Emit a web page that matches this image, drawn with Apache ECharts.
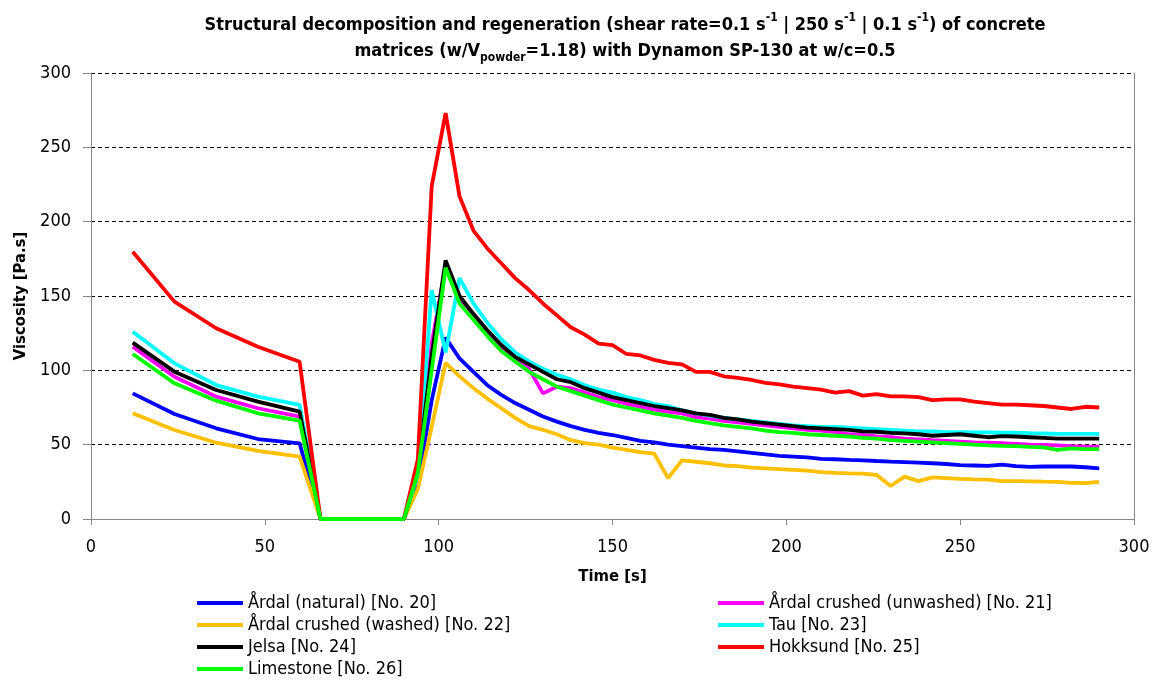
<!DOCTYPE html>
<html>
<head>
<meta charset="utf-8">
<script src="https://cdn.jsdelivr.net/npm/echarts@6/dist/echarts.min.js"></script>
<style>html,body{margin:0;padding:0;background:#fff}#c{width:1158px;height:684px}</style>
</head>
<body>
<div id="c"></div>
<script>
// time axis (s)
var timesA = [12, 24, 36, 48, 60, 66, 90];
var timesB = [94, 98, 102, 106, 110, 114, 118, 122, 126, 130, 134, 138, 142, 146, 150, 154, 158, 162, 166, 170,
  174, 178, 182, 186, 190, 194, 198, 202, 206, 210, 214, 218, 222, 226, 230, 234, 238, 242, 246, 250,
  254, 258, 262, 266, 270, 274, 278, 282, 286, 290];

var names = ['Årdal (natural) [No. 20]', 'Årdal crushed (unwashed) [No. 21]', 'Årdal crushed (washed) [No. 22]',
  'Tau [No. 23]', 'Jelsa [No. 24]', 'Hokksund [No. 25]', 'Limestone [No. 26]'];
var colors = ['#0000FF', '#FF00FF', '#FFC000', '#00FFFF', '#000000', '#FF0000', '#00FF00'];

// first phase (12..60 s, then 0 at 66 and 90 s)
var ardalNaturalA = [84.5, 70.6, 61, 53.8, 50.9, 0, 0];
var ardalUnwashedA = [115.9, 95.7, 82.3, 74.5, 68.8, 0, 0];
var ardalWashedA = [71.1, 59.9, 51.3, 45.9, 41.9, 0, 0];
var tauA = [126, 104.7, 90.1, 82.3, 76.7, 0, 0];
var jelsaA = [118.6, 99.1, 86.8, 78.9, 72.2, 0, 0];
var hokksundA = [179.8, 146.2, 128.3, 115.9, 105.8, 0, 0];
var limestoneA = [111, 91.3, 79.6, 71.1, 66.1, 0, 0];

// regeneration phase (94..290 s)
var ardalNaturalB = [24, 80, 122, 108, 99, 90, 83.5, 78, 73.5, 69, 65.5, 62.5, 60, 58, 56.5, 54.5, 52.5, 51.5, 50, 49,
  48, 47, 46.5, 45.5, 44.5, 43.5, 42.5, 42, 41.5, 40.5, 40.2, 39.8, 39.5, 39, 38.6, 38.3, 37.9, 37.5, 37, 36.3,
  36, 35.7, 36.6, 35.5, 35.1, 35.3, 35.3, 35.3, 34.8, 34.1];
var ardalUnwashedB = [30, 118, 170, 147, 136, 125, 115, 108, 101, 84.5, 89, 88, 85, 82, 80, 77.5, 75.5, 73.5, 72, 71,
  68.5, 67.5, 66, 65, 64, 63, 62, 61, 60, 59.5, 58.5, 57, 56.5, 55.5, 55, 54, 53.6, 53, 52.5, 52,
  51.5, 51.4, 51, 50.5, 50, 49.8, 49.5, 49, 48.7, 48.7];
var ardalWashedB = [20, 62, 105, 96, 88, 81, 74.5, 68, 62.5, 60, 57, 53, 51, 50, 48, 46.5, 45, 44, 27.5, 39.5,
  38.5, 37.5, 36, 35.5, 34.5, 34, 33.5, 33, 32.5, 31.5, 31, 30.7, 30.5, 29.6, 22.2, 28.5, 25.5, 28, 27.5, 27,
  26.7, 26.5, 25.5, 25.5, 25.3, 25.1, 25, 24.3, 24.2, 25];
var tauB = [30, 154, 112, 162, 145, 132, 121, 112, 106, 101, 97, 94, 90, 87, 85, 82, 80, 77.5, 76, 73,
  71, 69.5, 68, 67, 66, 65, 64, 63, 62.5, 62, 62, 61.5, 61, 60.5, 60, 59.5, 59, 59, 58.5, 58.5,
  58.3, 58.3, 58, 58, 57.7, 57.5, 57.3, 57.3, 57.3, 57.3];
var jelsaB = [32, 110, 174, 150, 138, 127, 117, 109, 104, 99, 94, 92, 88, 85, 82, 80, 78, 76, 74.5, 73,
  71, 70, 68, 67, 65.5, 64.5, 63.5, 62.5, 61.5, 61, 60.5, 60, 59, 58.7, 58, 57.6, 57, 56, 56.5, 57,
  56, 55, 55.8, 55.5, 55, 54.5, 54, 54, 54, 54];
var hokksundB = [40, 224, 273, 217, 194, 182, 172, 162, 154, 145, 137, 129, 124, 118, 117, 111, 110, 107, 105, 104,
  99, 99, 96, 95, 93.5, 91.5, 90.5, 89, 88, 87, 85, 86, 83, 84, 82.5, 82.5, 82, 80, 80.5, 80.5,
  79, 78, 77, 77, 76.5, 76, 75, 74, 75.5, 75];
var limestoneB = [31, 100, 169, 145, 134, 123, 113, 106, 99, 94, 89, 86, 83, 80, 77, 75, 73, 71, 69.5, 68,
  66, 64.5, 63, 62, 61, 59.5, 58.5, 58, 57, 56.5, 56, 55.5, 54.5, 54, 53, 52.5, 52, 51.5, 51, 50.5,
  50, 49.5, 49.2, 49, 48.5, 48.2, 46.5, 47.5, 47, 47];

var xTicks = [0, 50, 100, 150, 200, 250, 300];
var yTicks = [0, 50, 100, 150, 200, 250, 300];

var seriesA = [ardalNaturalA, ardalUnwashedA, ardalWashedA, tauA, jelsaA, hokksundA, limestoneA];
var seriesB = [ardalNaturalB, ardalUnwashedB, ardalWashedB, tauB, jelsaB, hokksundB, limestoneB];

function pts(a, b) {
  var out = [];
  timesA.forEach(function (t, i) { out.push([t, a[i]]); });
  timesB.forEach(function (t, i) { out.push([t, b[i]]); });
  return out;
}

var FONT = "'Liberation Sans Narrow', 'DejaVu Sans Condensed', 'Open Sans', sans-serif";

var series = names.map(function (n, i) {
  return {
    name: n, type: 'line', data: pts(seriesA[i], seriesB[i]),
    symbol: 'none', smooth: false, animation: false,
    lineStyle: { color: colors[i], width: 3.8 }, itemStyle: { color: colors[i] }
  };
});

var chart = echarts.init(document.getElementById('c'), null, { renderer: 'canvas' });
var legendText = { fontFamily: FONT, fontSize: 18, color: '#000', lineHeight: 22 };
chart.setOption({
  backgroundColor: '#fff',
  animation: false,
  title: {
    left: 620, top: 7, textAlign: 'center',
    text: '{b|Structural decomposition and regeneration (shear rate=0.1 s}{sup|-1}{b| | 250 s}{sup|-1}{b| | 0.1 s}{sup|-1}{b|) of concrete}\n{b|matrices (w/V}{sub|powder}{b|=1.18) with Dynamon SP-130 at w/c=0.5}',
    textStyle: {
      rich: {
        b: { fontFamily: FONT, fontWeight: 'bold', fontSize: 18, color: '#000', lineHeight: 26 },
        sup: { fontFamily: FONT, fontWeight: 'bold', fontSize: 12, color: '#000', verticalAlign: 'top', lineHeight: 17 },
        sub: { fontFamily: FONT, fontWeight: 'bold', fontSize: 12, color: '#000', verticalAlign: 'bottom', lineHeight: 14 }
      }
    }
  },
  grid: { left: 91, right: 24, top: 73, bottom: 165, containLabel: false },
  legend: [
    { orient: 'vertical', left: 197, top: 592, height: 100, padding: 0, itemGap: 0, itemWidth: 46, itemHeight: 4, icon: 'rect',
      data: [names[0], names[2], names[4], names[6]], textStyle: legendText },
    { orient: 'vertical', left: 718, top: 592, height: 100, padding: 0, itemGap: 0, itemWidth: 46, itemHeight: 4, icon: 'rect',
      data: [names[1], names[3], names[5]], textStyle: legendText }
  ],
  xAxis: {
    type: 'value', min: 0, max: 300, interval: 50,
    name: 'Time [s]', nameLocation: 'middle', nameGap: 49,
    nameTextStyle: { fontFamily: FONT, fontWeight: 'bold', fontSize: 16.5, color: '#000' },
    axisLine: { show: true, lineStyle: { color: '#868686', width: 1 } },
    axisTick: { show: true, inside: false, length: 6, lineStyle: { color: '#868686' } },
    axisLabel: { fontFamily: FONT, fontSize: 18, color: '#000', margin: 19,
      formatter: function (v) { return xTicks.indexOf(v) >= 0 ? String(v) : ''; } },
    splitLine: { show: false }
  },
  yAxis: [{
    type: 'value', min: 0, max: 300, interval: 50,
    name: 'Viscosity [Pa.s]', nameLocation: 'middle', nameGap: 61, nameRotate: 90,
    nameTextStyle: { fontFamily: FONT, fontWeight: 'bold', fontSize: 16.5, color: '#000' },
    axisLine: { show: true, lineStyle: { color: '#868686', width: 1 } },
    axisTick: { show: true, inside: false, length: 8, lineStyle: { color: '#868686' } },
    axisLabel: { fontFamily: FONT, fontSize: 18, color: '#000', margin: 20,
      formatter: function (v) { return yTicks.indexOf(v) >= 0 ? String(v) : ''; } },
    splitLine: { show: true, lineStyle: { color: '#000', type: [4, 3], width: 1 } }
  }, {
    type: 'value', min: 0, max: 300, interval: 50, position: 'right',
    axisLine: { show: true, lineStyle: { color: '#868686', width: 1 } },
    axisTick: { show: false }, axisLabel: { show: false }, splitLine: { show: false }
  }],
  series: series
});
</script>
</body>
</html>
